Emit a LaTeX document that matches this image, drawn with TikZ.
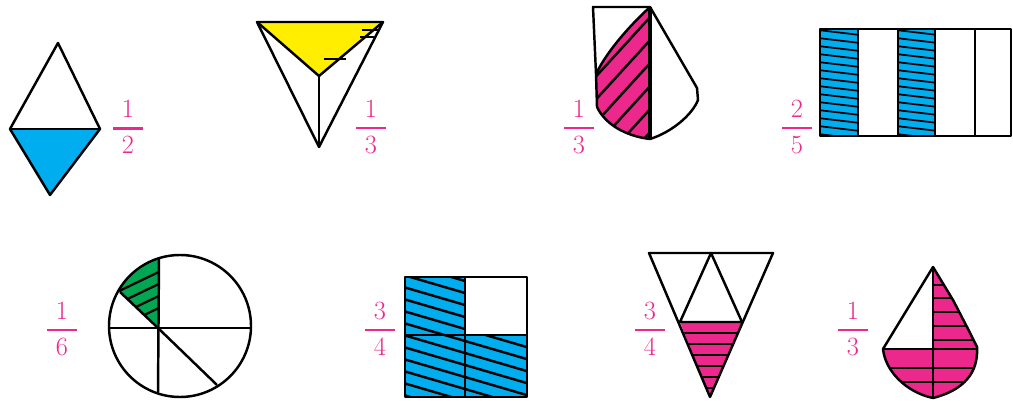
\documentclass[tikz,border=0pt]{standalone}
\usepackage{amsmath}
\usetikzlibrary{calc}
\definecolor{fracpink}{RGB}{236,40,140}
\definecolor{shadeblue}{RGB}{0,174,239}
\definecolor{shadeyellow}{RGB}{255,238,0}
\definecolor{shadegreen}{RGB}{0,166,81}
\definecolor{shadepink}{RGB}{236,40,140}
\newcommand{\pfrac}[2]{$\genfrac{}{}{1.3pt}{0}{\makebox[1.15em]{#1}}{\makebox[1.15em]{#2}}$}
\tikzset{
  outline/.style={line width=1.4pt, line join=round},
  hatch/.style={line width=1pt},
  fracnum/.style={text=fracpink, font=\fontsize{15}{18}\selectfont, inner sep=0pt}
}
\begin{document}
\begin{tikzpicture}[x=0.02cm, y=-0.02cm]
  \useasboundingbox (0,0) rectangle (1013,401);

  % kite, one half
  \fill[shadeblue] (10,129) -- (100,129) -- (50,195) -- cycle;
  \draw[outline] (58,43) -- (100,129) -- (50,195) -- (10,129) -- cycle;
  \draw[outline] (10,129) -- (100,129);
  \node[fracnum] (half) at (128,127) {\pfrac{1}{2}};

  % triangle, one third
  \fill[shadeyellow] (257,22) -- (383,22) -- (319,76) -- cycle;
  \draw[hatch] (362,30) -- (380,30);
  \draw[hatch] (360,37) -- (374,37);
  \draw[hatch] (324,59) -- (346,59);
  \draw[outline] (257,22) -- (383,22) -- (319,147) -- cycle;
  \draw[outline] (257,22) -- (319,76) -- (383,22);
  \draw[outline] (319,76) -- (319,147);
  \node[fracnum] (thirdA) at (371,127) {\pfrac{1}{3}};

  % shield, one third
  \begin{scope}
    \clip (650,7) .. controls (625,30) and (605,55) .. (596,74) -- (597,107)
      .. controls (605,124) and (625,136) .. (650,139) -- cycle;
    \fill[shadepink] (580,0) rectangle (655,145);
    \foreach \k in {0,...,7}
      \draw[line width=1.4pt] (590,60+\k*23) -- ++(62,-68);
  \end{scope}
  \draw[outline] (593,7) -- (650,7) -- (697,88) -- (698,100)
    .. controls (692,115) and (672,132) .. (650,139)
    .. controls (625,136) and (605,124) .. (597,107) -- (596,74) -- cycle;
  \draw[outline] (650,7) .. controls (625,30) and (605,55) .. (596,74);
  \draw[line width=2pt] (650,7) -- (650,139);
  \node[fracnum] (thirdB) at (579,127) {\pfrac{1}{3}};

  % strip, two fifths
  \foreach \x/\w in {820/38, 898/37} {
    \begin{scope}
      \clip (\x,29) rectangle ++(\w,107);
      \fill[shadeblue] (\x,29) rectangle ++(\w,107);
      \foreach \k in {0,...,14}
        \draw[hatch] (\x-2,22+\k*8) -- ++(42,5);
    \end{scope}
  }
  \draw[outline] (820,29) rectangle (1011,136);
  \foreach \x in {858,898,935,975}
    \draw[outline] (\x,29) -- (\x,136);
  \node[fracnum] (twofifths) at (797,127) {\pfrac{2}{5}};

  % circle, one sixth
  \begin{scope}
    \clip (180,326) circle (71);
    \clip (158,328) -- (82,256) -- (82,240) -- (159,240) -- cycle;
    \fill[shadegreen] (100,240) rectangle (165,330);
    \foreach \k in {0,...,3}
      \draw[line width=1.3pt] (115,293+\k*12) -- ++(50,-24);
  \end{scope}
  \draw[outline] (180,326) circle (71);
  \draw[outline] (109,328) -- (251,328);
  \draw[outline] (159,258) -- (158,394);
  \draw[outline] (120,292) -- (158,328) -- (217,385);
  \node[fracnum] (sixth) at (62,329) {\pfrac{1}{6}};

  % square, three quarters
  \begin{scope}
    \clip (405,277) rectangle (465,335) (405,335) rectangle (527,397);
    \fill[shadeblue] (405,277) rectangle (527,397);
    \foreach \k in {-2,...,11}
      \draw[line width=1.4pt] (400,262+\k*12) -- ++(130,38);
  \end{scope}
  \draw[outline] (405,277) rectangle (527,397);
  \draw[outline] (465,277) -- (465,397);
  \draw[outline] (405,335) -- (527,335);
  \node[fracnum] (quarterA) at (380,329) {\pfrac{3}{4}};

  % triangle, three quarters
  \begin{scope}
    \clip (680,322) -- (742,322) -- (710,397) -- cycle;
    \fill[shadepink] (670,320) rectangle (750,400);
    \foreach \yy in {333,344,355,366,377,388}
      \draw[hatch] (670,\yy) -- (750,\yy);
  \end{scope}
  \draw[outline] (649,253) -- (773,253) -- (710,397) -- cycle;
  \draw[outline] (680,322) -- (711,253) -- (742,322) -- cycle;
  \node[fracnum] (quarterB) at (650,329) {\pfrac{3}{4}};

  % drop, one third
  \begin{scope}
    \clip (933,267) -- (953,300) -- (967,327) -- (977,347)
      .. controls (978,365) and (972,388) .. (933,398)
      .. controls (905,392) and (885,370) .. (883,349) -- (933,349) -- cycle;
    \fill[shadepink] (880,260) rectangle (985,400);
    \foreach \yy in {285,298,312,326,340,368,382}
      \draw[hatch] (880,\yy) -- (985,\yy);
  \end{scope}
  \draw[outline] (933,267) -- (883,349)
    .. controls (885,370) and (905,392) .. (933,398)
    .. controls (972,388) and (978,365) .. (977,347)
    -- (967,327) -- (953,300) -- cycle;
  \draw[outline] (883,349) -- (977,349);
  \draw[outline] (933,267) -- (933,398);
  \node[fracnum] (thirdC) at (853,329) {\pfrac{1}{3}};
\end{tikzpicture}
\end{document}
